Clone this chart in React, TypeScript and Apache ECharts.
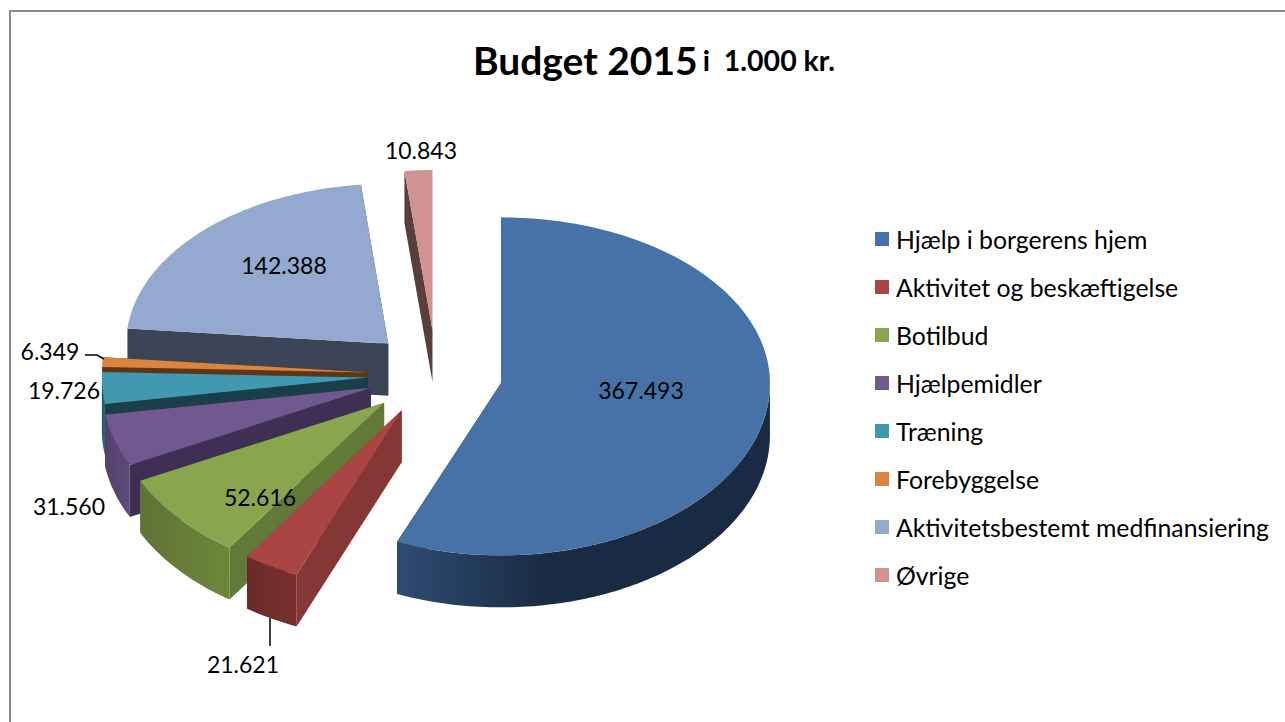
import React, { useEffect, useRef } from "react";
import * as echarts from "echarts";

// ---- data ----
const categories = [
  "Hjælp i borgerens hjem",
  "Aktivitet og beskæftigelse",
  "Botilbud",
  "Hjælpemidler",
  "Træning",
  "Forebyggelse",
  "Aktivitetsbestemt medfinansiering",
  "Øvrige",
];
const values = [367493, 21621, 52616, 31560, 19726, 6349, 142388, 10843];

// ---- styles: top face, wall gradient start/end, cut-face ----
const topColors = ["#4672a8", "#a94643", "#89a54e", "#71588f", "#4298af", "#db843d", "#93a9cf", "#d19392"];
const wallFrom = ["#2d4c72", "#7a302d", "#6c8839", "#5e4a78", "#2a6e82", "#6b3d1a", "#3c4557", "#5a3e3e"];
const wallTo = ["#192b42", "#692a28", "#5f7336", "#54416c", "#1e5566", "#5e3617", "#3c4557", "#5a3e3e"];
const faceColors = ["#192b42", "#843735", "#627a38", "#3f2f52", "#1a3e4a", "#5e3617", "#3c4557", "#5a3e3e"];
const zOrder = [9, 8, 7, 6, 5, 4, 3, 2];

// ---- layout ----
const CX = 435;
const CY = 375;
const RX = 269;
const RY_BACK = 160;
const RY_FRONT = 170;
const EXPLODE = 0.25;
const DEPTH = 52;
// perspective corrections per slice
const sliceRx = [269, 272, 272, 269, 266, 266, 262, 269];
const sliceRyBack = [166, 160, 160, 160, 160, 160, 160, 160];
const sliceRyFront = [172, 178, 176, 174, 170, 170, 170, 170];
const nudgeX = [0, -1, 0, 0, 0, 0, 1, 1];
const nudgeY = [0, -2, 0, 0, 0, 0, -3, -5];
const labelPos: number[][] = [
  [641, 390], [243, 664], [260, 497], [69, 506], [64, 390], [50, 351], [284, 265], [421, 150],
];
const leaders: Record<number, number[][]> = {
  1: [[270, 618], [270, 646]],
  5: [[85, 355], [97, 355], [104, 359]],
};
const LABEL_FONT = "23px Lato, sans-serif";

const total = values.reduce((a, b) => a + b, 0);

function dir(theta: number, rx = RX, ryBack = RY_BACK, ryFront = RY_FRONT): number[] {
  const s = Math.sin(theta);
  const c = Math.cos(theta);
  return [rx * s, -(c > 0 ? ryBack : ryFront) * c];
}

function formatValue(v: number): string {
  return String(v).replace(/\B(?=(\d{3})+$)/g, ".");
}

function makeRenderItem(index: number) {
  return (_params: any, api: any) => {
    const v = api.value(0);
    let before = 0;
    for (let i = 0; i < index; i++) before += values[i];
    const a0 = (before / total) * Math.PI * 2;
    const a1 = ((before + v) / total) * Math.PI * 2;
    const mid = (a0 + a1) / 2;
    const md = dir(mid);
    const ax = CX + EXPLODE * md[0] + nudgeX[index];
    const ay = CY + EXPLODE * md[1] + nudgeY[index];
    const sd = (t: number) => dir(t, sliceRx[index], sliceRyBack[index], sliceRyFront[index]);
    const arcPoints = (t0: number, t1: number) => {
      const pts: number[][] = [];
      const n = Math.max(2, Math.ceil((t1 - t0) / 0.02));
      for (let i = 0; i <= n; i++) {
        const d = sd(t0 + ((t1 - t0) * i) / n);
        pts.push([ax + d[0], ay + d[1]]);
      }
      return pts;
    };
    const p0 = sd(a0);
    const p1 = sd(a1);
    const s = { x: ax + p0[0], y: ay + p0[1] };
    const e = { x: ax + p1[0], y: ay + p1[1] };
    const children: any[] = [];
    const face = (q: { x: number; y: number }) => ({
      type: "polygon",
      shape: { points: [[ax, ay], [q.x, q.y], [q.x, q.y + DEPTH], [ax, ay + DEPTH]] },
      style: { fill: faceColors[index] },
    });
    children.push(face(s), face(e));
    const w0 = Math.max(a0, Math.PI / 2);
    const w1 = Math.min(a1, (Math.PI * 3) / 2);
    if (w1 > w0) {
      const arc = arcPoints(w0, w1);
      const low = arc.slice().reverse().map((p) => [p[0], p[1] + DEPTH]);
      children.push({
        type: "polygon",
        shape: { points: arc.concat(low) },
        style: {
          fill: new echarts.graphic.LinearGradient(0, 0, 1, 0, [
            { offset: 0, color: index === 0 ? wallFrom[index] : wallTo[index] },
            { offset: index === 0 ? 0.4 : 1, color: index === 0 ? wallTo[index] : wallFrom[index] },
            { offset: 1, color: index === 0 ? wallTo[index] : wallFrom[index] },
          ]),
        },
      });
    }
    children.push({
      type: "polygon",
      shape: { points: [[ax, ay]].concat(arcPoints(a0, a1)) },
      style: { fill: topColors[index] },
    });
    if (leaders[index]) {
      children.push({
        type: "polyline",
        shape: { points: leaders[index] },
        style: { stroke: "#000000", lineWidth: 1.5, fill: "none" },
      });
    }
    children.push({
      type: "text",
      style: {
        text: formatValue(v),
        x: labelPos[index][0],
        y: labelPos[index][1],
        font: LABEL_FONT,
        fill: "#000000",
        align: "center",
        verticalAlign: "middle",
      },
    });
    return { type: "group", children };
  };
}

export default function App() {
  const ref = useRef<HTMLDivElement>(null);
  useEffect(() => {
    if (!ref.current) return;
    const chart = echarts.init(ref.current, undefined, { renderer: "svg" });
    chart.setOption({
      animation: false,
      backgroundColor: "#ffffff",
      title: {
        text: "{a|Budget 2015} {b|i  1.000 kr.}",
        left: 649,
        top: 35,
        textAlign: "center",
        textStyle: {
          rich: {
            a: { fontFamily: "Lato, sans-serif", fontWeight: "bold", fontSize: 39, color: "#000000" },
            b: { fontFamily: "Lato, sans-serif", fontWeight: "bold", fontSize: 28.5, color: "#000000" },
          },
        },
      },
      legend: {
        orient: "vertical",
        left: 870,
        top: 221,
        icon: "rect",
        itemWidth: 14,
        itemHeight: 14,
        itemGap: 22,
        selectedMode: false,
        data: categories,
        textStyle: { fontFamily: "Lato, sans-serif", fontSize: 24.8, color: "#000000", padding: [0, 0, 0, 2], lineHeight: 26 },
      },
      graphic: [
        {
          type: "polyline",
          shape: { points: [[10, 722], [10, 11], [1285, 11]] },
          style: { stroke: "#8c8c8c", lineWidth: 2, fill: "none" },
        },
      ],
      series: categories.map((name, i) => ({
        type: "custom",
        name,
        coordinateSystem: "none",
        z: zOrder[i],
        itemStyle: { color: topColors[i] },
        renderItem: makeRenderItem(i),
        data: [[values[i]]],
      })),
    });
    return () => chart.dispose();
  }, []);
  return (
    <div
      ref={ref}
      style={{ position: "absolute", left: 0, top: 0, width: 1285, height: 722 }}
    />
  );
}
